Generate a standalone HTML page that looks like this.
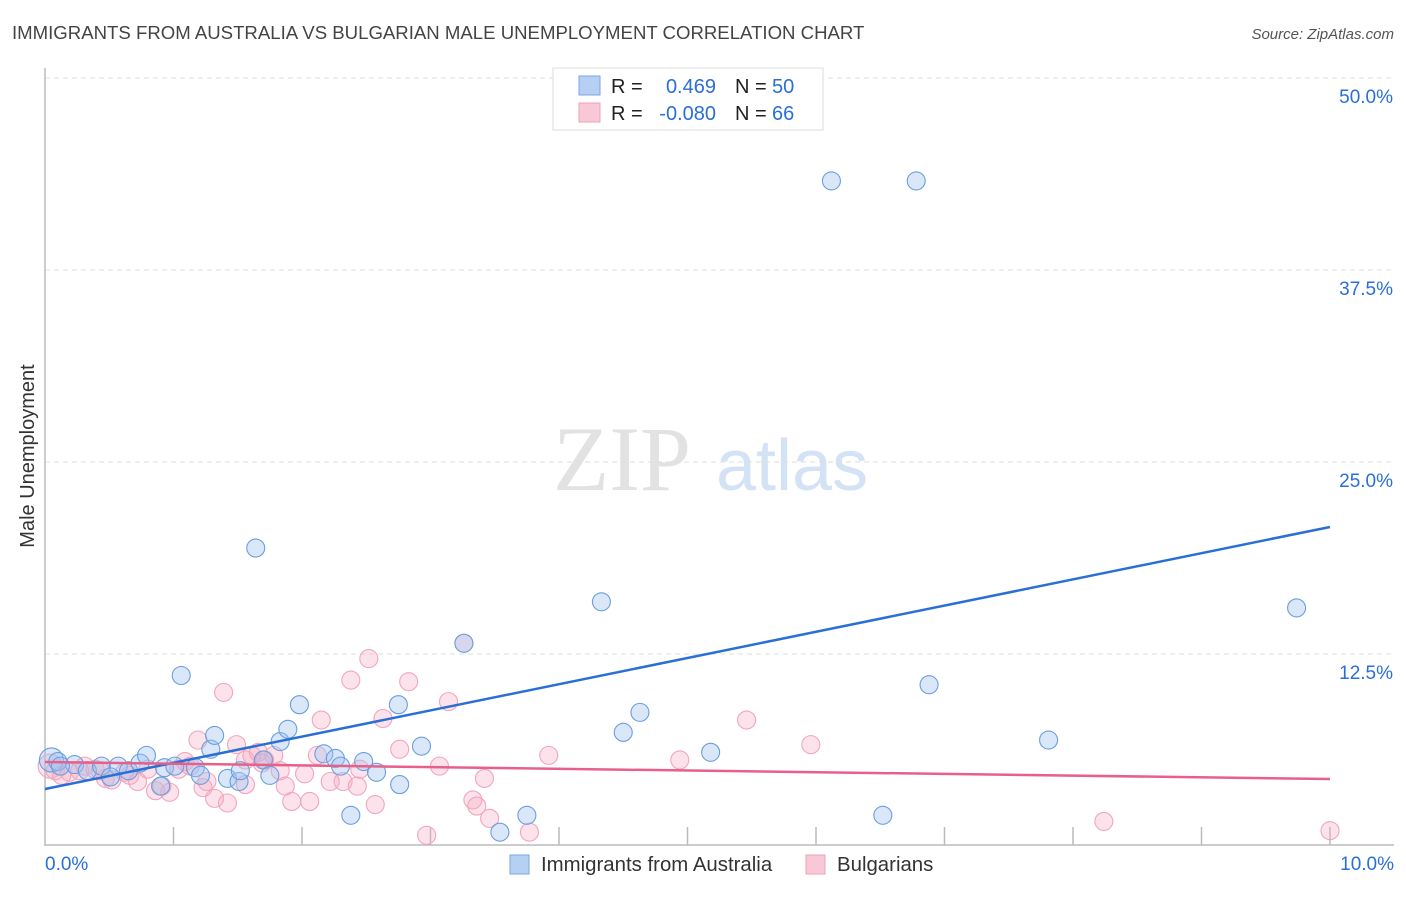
<!DOCTYPE html>
<html><head><meta charset="utf-8"><style>
body{margin:0;background:#fff;width:1406px;height:892px;overflow:hidden;font-family:"Liberation Sans",sans-serif}
</style></head><body>
<svg width="1406" height="892" xmlns="http://www.w3.org/2000/svg" font-family="Liberation Sans, sans-serif">
<text x="12" y="39" font-size="18.6" fill="#444">IMMIGRANTS FROM AUSTRALIA VS BULGARIAN MALE UNEMPLOYMENT CORRELATION CHART</text>
<text x="1394" y="39" font-size="15" fill="#555" font-style="italic" text-anchor="end">Source: ZipAtlas.com</text>
<text transform="translate(34,456) rotate(-90)" font-size="20" fill="#333" text-anchor="middle">Male Unemployment</text>
<g>
<text x="553" y="490" font-size="92" font-family="Liberation Serif, serif" fill="#e2e2e2">ZIP</text>
<text x="716" y="490" font-size="72" fill="#d3e2f5">atlas</text>
</g>
<g id="grid"></g>
<g id="axes"></g>
<g id="pts"></g>
<g id="lines"></g>
<g>
<rect x="553" y="68" width="270" height="62" fill="#fff" stroke="#ddd"/>
<rect x="579" y="76" width="21" height="19" fill="#b5d0f3" stroke="#7aa6e4"/>
<rect x="579" y="103" width="21" height="19" fill="#f9c8d6" stroke="#f0a0b8"/>
<text x="611" y="93" font-size="20" fill="#222">R = </text><text x="716" y="93" font-size="20" fill="#2a6fd6" text-anchor="end">0.469</text>
<text x="735" y="93" font-size="20" fill="#222">N = </text><text x="772" y="93" font-size="20" fill="#2a6fd6">50</text>
<text x="611" y="120" font-size="20" fill="#222">R = </text><text x="716" y="120" font-size="20" fill="#2a6fd6" text-anchor="end">-0.080</text>
<text x="735" y="120" font-size="20" fill="#222">N = </text><text x="772" y="120" font-size="20" fill="#2a6fd6">66</text>
</g>
<g>
<rect x="510" y="855" width="19" height="19" fill="#b5d0f3" stroke="#7aa6e4"/>
<text x="541" y="871" font-size="20.4" fill="#333">Immigrants from Australia</text>
<rect x="806" y="855" width="19" height="19" fill="#f9c8d6" stroke="#f0a0b8"/>
<text x="837" y="871" font-size="20.4" fill="#333">Bulgarians</text>
</g>
</svg>
<script>
const yTicks=[12.5,25,37.5,50];
const yTickLabels=["12.5%","25.0%","37.5%","50.0%"];
const xTickLabels=["0.0%","10.0%"];
const blueX=[0.05,0.1,0.23,0.33,0.44,0.57,0.65,0.74,0.79,0.93,1.01,1.06,1.17,1.21,1.29,1.32,1.42,1.51,1.64,1.70,1.75,1.83,1.89,1.98,2.17,2.26,2.30,2.38,2.48,2.58,2.75,2.76,2.93,3.26,3.54,3.75,4.33,4.50,4.63,5.18,6.12,6.52,6.78,6.88,7.81,9.74,0.12,0.51,0.90,1.52];
const blueY=[5.6,5.5,5.3,4.9,5.2,5.2,4.9,5.4,5.9,5.1,5.2,11.1,5.1,4.6,6.3,7.2,4.4,4.2,19.4,5.6,4.6,6.8,7.6,9.2,6.0,5.7,5.2,2.0,5.5,4.8,9.2,4.0,6.5,13.2,0.9,2.0,15.9,7.4,8.7,6.1,43.3,2.0,43.3,10.5,6.9,15.5,5.2,4.5,3.9,4.9];
const pinkX=[0.04,0.08,0.13,0.19,0.27,0.39,0.47,0.52,0.62,0.72,0.80,0.86,0.91,0.97,1.04,1.09,1.13,1.19,1.23,1.26,1.32,1.39,1.42,1.49,1.56,1.61,1.66,1.71,1.78,1.83,1.87,1.92,2.02,2.06,2.15,2.22,2.32,2.38,2.43,2.52,2.57,2.63,2.76,2.83,2.97,3.07,3.14,3.33,3.36,3.42,3.46,3.77,3.92,4.94,5.46,5.96,8.24,10.0,3.26,0.66,0.31,1.56,2.12,1.69,2.45,0.43];
const pinkY=[5.2,4.9,4.6,4.8,4.9,5.0,4.4,4.3,4.8,4.2,5.0,3.6,3.9,3.5,5.0,5.5,5.2,6.9,3.8,4.2,3.1,10.0,2.8,6.6,5.6,5.9,6.1,5.6,5.9,4.9,3.9,2.9,4.7,2.9,8.2,4.2,4.2,10.8,3.9,12.2,2.7,8.3,6.3,10.7,0.7,5.2,9.4,3.0,2.6,4.4,1.8,0.9,5.9,5.6,8.2,6.6,1.6,1.0,13.2,4.6,5.2,4.0,5.9,5.4,5.0,4.9];
const blueTrend=[3.71,20.77];
const pinkTrend=[5.47,4.36];
const NS="http://www.w3.org/2000/svg";
const X0=45,X1=1330,Y0=846,PPY=15.36;
function sx(v){return X0+(X1-X0)*v/10;}
function sy(v){return Y0-v*PPY;}
function mk(t,a,p){const e=document.createElementNS(NS,t);for(const k in a)e.setAttribute(k,a[k]);p.appendChild(e);return e;}
const grid=document.getElementById('grid'),axes=document.getElementById('axes'),lines=document.getElementById('lines'),pts=document.getElementById('pts');
yTicks.forEach((v,i)=>{
 const l=mk('line',{x1:X0,x2:1394,y1:sy(v),y2:sy(v),stroke:'#ddd','stroke-dasharray':'5,4'},grid);
 
 
 const t=mk('text',{x:1393,y:sy(v)+25,'font-size':19,fill:'#2a6fd6','text-anchor':'end'},axes);
 t.textContent=yTickLabels[i];
 
 
});
let a=mk('line',{x1:X0,x2:X0,y1:68,y2:846,stroke:'#bbb','stroke-width':1.5},axes);


a=mk('line',{x1:X0,x2:1394,y1:845,y2:845,stroke:'#bbb','stroke-width':1.5},axes);


for(let i=1;i<=10;i++){const t=mk('line',{x1:sx(i),x2:sx(i),y1:827,y2:845,stroke:'#bbb','stroke-width':1.5},axes);
 
 }
[[0,'start',45],[10,'end',1394]].forEach((d,i)=>{const t=mk('text',{x:d[2],y:870,'font-size':19,fill:'#2a6fd6','text-anchor':d[1]},axes);t.textContent=xTickLabels[i];
 
 });
function dots(xs,ys,fill,stroke,name){xs.forEach((x,i)=>{const r=(i===0)?12:9;const c=mk('circle',{cx:sx(x),cy:sy(ys[i]),r:r,fill:fill,stroke:stroke,'stroke-width':1.1},pts);
 
 });}
dots(pinkX,pinkY,'rgba(245,170,195,0.33)','#f2a5bd','bulgarians-point');
dots(blueX,blueY,'rgba(160,196,240,0.4)','#6a9ee0','australia-point');
let tl=mk('line',{x1:sx(0),x2:sx(10),y1:sy(blueTrend[0]),y2:sy(blueTrend[1]),stroke:'#2a6fd6','stroke-width':2.5},lines);


tl=mk('line',{x1:sx(0),x2:sx(10),y1:sy(pinkTrend[0]),y2:sy(pinkTrend[1]),stroke:'#e8608a','stroke-width':2.5},lines);


</script>
</body></html>
